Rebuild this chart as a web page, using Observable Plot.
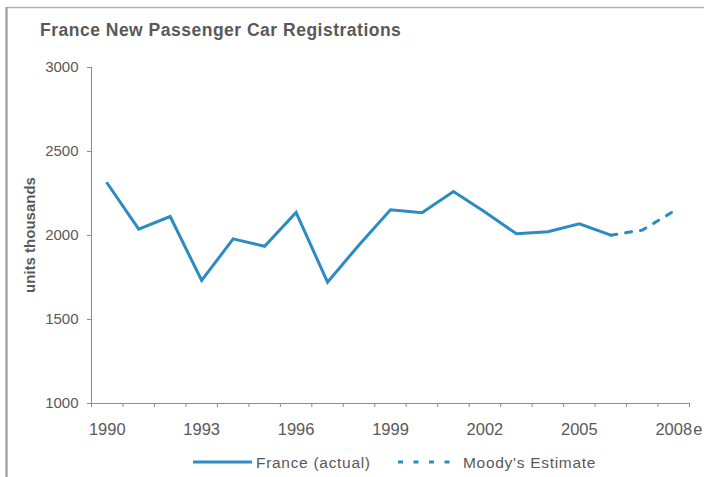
<!DOCTYPE html>
<html>
<head>
<meta charset="utf-8">
<script src="https://cdn.jsdelivr.net/npm/d3@7"></script>
<script src="https://cdn.jsdelivr.net/npm/@observablehq/plot@0.6"></script>
<style>
  html, body { margin: 0; padding: 0; background: #fff; }
  #wrap { position: relative; width: 704px; height: 477px; overflow: hidden; font-family: "Liberation Sans", Arial, sans-serif; }
  #wrap > svg { position: absolute; left: 0; top: 0; }
</style>
</head>
<body>
<div id="wrap"></div>
<script>
// ---- data ----
const actualYears = [1990, 1991, 1992, 1993, 1994, 1995, 1996, 1997, 1998, 1999, 2000, 2001, 2002, 2003, 2004, 2005, 2006];
const actualValues = [2311, 2038, 2113, 1732, 1980, 1936, 2137, 1722, 1944, 2153, 2135, 2262, 2140, 2010, 2022, 2070, 2002];
const estimateYears = [2006, 2007, 2008];
const estimateValues = [2002, 2032, 2145];
const xLabelYears = [1990, 1993, 1996, 1999, 2002, 2005, 2008];
const xLabelTexts = ["1990", "1993", "1996", "1999", "2002", "2005", "2008"];
const xLabelSuffix = "e";
const yTicks = [1000, 1500, 2000, 2500, 3000];
const titleText = "France New Passenger Car Registrations";
const yLabelText = "units thousands";
const seriesNames = ["France (actual)", "Moody's Estimate"];

const lineColor = "#2b8bc3";
const textColor = "#595959";
const axisColor = "#8c8c8c";

const actual = actualYears.map((x, i) => ({x, y: actualValues[i]}));
const estimate = estimateYears.map((x, i) => ({x, y: estimateValues[i]}));
const boundaries = d3.range(actualYears[0] - 0.5, estimateYears[estimateYears.length - 1] + 1, 1);

const chart = Plot.plot({
  width: 704,
  height: 477,
  marginTop: 67,
  marginBottom: 74,
  marginLeft: 91,
  marginRight: 15,
  style: {fontFamily: "Liberation Sans, Arial, sans-serif", fontSize: "15px", color: textColor, background: "transparent"},
  x: {type: "linear", domain: [boundaries[0], boundaries[boundaries.length - 1]]},
  y: {domain: [yTicks[0], yTicks[yTicks.length - 1]]},
  marks: [
    Plot.axisY({ticks: yTicks, tickSize: 4, tickPadding: 9, label: null, stroke: axisColor, fill: textColor, fontSize: 15, tickFormat: d => String(d)}),
    Plot.axisX({ticks: boundaries, tickSize: 4, tickFormat: () => "", label: null, stroke: axisColor}),
    Plot.axisX({ticks: xLabelYears, tickSize: 0, tickPadding: 20, label: null, fill: textColor, fontSize: 16.5,
      tickFormat: d => xLabelTexts[xLabelYears.indexOf(d)]}),
    Plot.text([xLabelYears[xLabelYears.length - 1]], {x: d => d, frameAnchor: "bottom", text: () => xLabelSuffix,
      textAnchor: "start", dx: 19.5, dy: 20, lineAnchor: "top", fill: textColor, fontSize: 16.5}),
    Plot.ruleY([yTicks[0]], {stroke: axisColor, strokeWidth: 1}),
    Plot.ruleX([boundaries[0]], {stroke: axisColor, strokeWidth: 1}),
    Plot.line(actual, {x: "x", y: "y", stroke: lineColor, strokeWidth: 3, strokeLinejoin: "miter", strokeMiterlimit: 4}),
    Plot.line(estimate, {x: "x", y: "y", stroke: lineColor, strokeWidth: 3, strokeDasharray: "6,9"})
  ]
});

const wrap = document.getElementById("wrap");
wrap.appendChild(chart);

// overlay: frame, title, y label, legend
const ns = "http://www.w3.org/2000/svg";
const ov = document.createElementNS(ns, "svg");
ov.setAttribute("width", 704);
ov.setAttribute("height", 477);
ov.style.pointerEvents = "none";
wrap.appendChild(ov);
function el(tag, attrs, text) {
  const e = document.createElementNS(ns, tag);
  for (const k in attrs) e.setAttribute(k, attrs[k]);
  if (text != null) e.textContent = text;
  ov.appendChild(e);
  return e;
}
const ff = "Liberation Sans, Arial, sans-serif";
// outer border (top & left)
el("line", {x1: 6.5, y1: 7.5, x2: 704, y2: 7.5, stroke: "#b4b4b4", "stroke-width": 1.5});
el("line", {x1: 6.5, y1: 7, x2: 6.5, y2: 477, stroke: "#a8a8a8", "stroke-width": 2.5});
// title
el("text", {x: 40, y: 36, fill: textColor, "font-size": 17.5, "font-weight": "bold", "letter-spacing": 0.5, "font-family": ff}, titleText);
// y label
el("text", {transform: "translate(35,235) rotate(-90)", "text-anchor": "middle", fill: textColor, "font-size": 15, "font-weight": "bold", "font-family": ff}, yLabelText);
// legend
el("line", {x1: 193, y1: 462, x2: 252, y2: 462, stroke: lineColor, "stroke-width": 3});
el("text", {x: 256, y: 467.5, fill: textColor, "font-size": 15.5, "letter-spacing": 0.7, "font-family": ff}, seriesNames[0]);
el("line", {x1: 398, y1: 462, x2: 456, y2: 462, stroke: lineColor, "stroke-width": 3, "stroke-dasharray": "5,10.5"});
el("text", {x: 463, y: 467.5, fill: textColor, "font-size": 15.5, "letter-spacing": 0.7, "font-family": ff}, seriesNames[1]);
</script>
</body>
</html>
